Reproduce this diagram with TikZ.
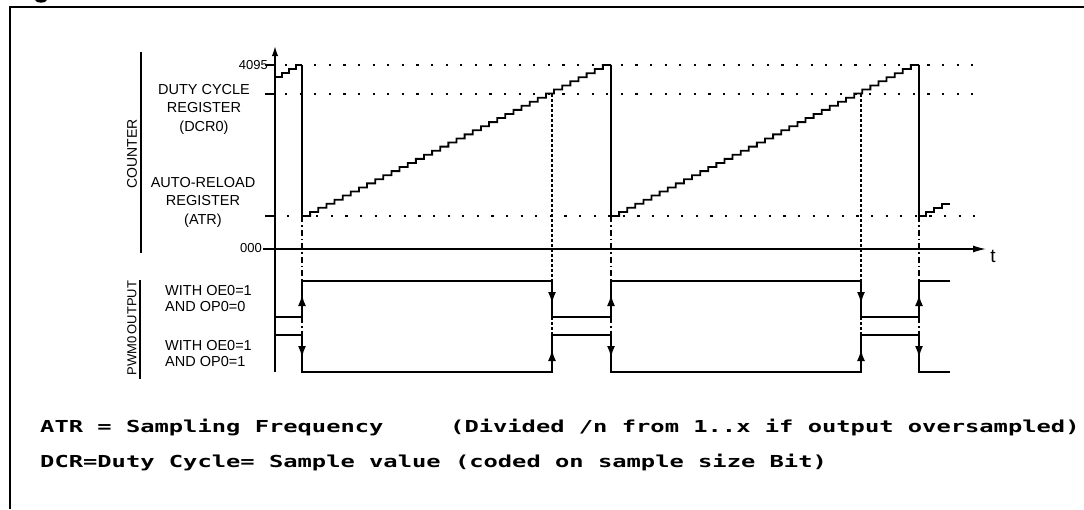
\documentclass[tikz,border=0pt]{standalone}
\usepackage{fontspec}
\setmainfont{Liberation Sans}
\newfontfamily\bottomfont{DejaVu Sans Mono}
\usetikzlibrary{arrows.meta}
\begin{document}
\begin{tikzpicture}[x=1pt,y=-1pt,
  lbl/.style={font=\fontsize{14.5}{18.5}\selectfont, inner sep=0pt, align=center},
  sidelbl/.style={font=\fontsize{14}{16}\selectfont, inner sep=0pt, rotate=90},
  frameline/.style={line width=2pt},
  axisv/.style={line width=2.7pt},
  axish/.style={line width=1.3pt},
  tick/.style={line width=2pt},
  level/.style={line width=2.2pt, dash pattern=on 2.2pt off 12.4pt},
  stair/.style={line width=1.8pt},
  drop/.style={line width=1.2pt},
  dashdot/.style={line width=1.2pt, dash pattern=on 6pt off 3pt on 1.5pt off 3pt},
  dcrline/.style={line width=2.4pt, dash pattern=on 3pt off 2pt},
  pulse/.style={line width=2.4pt},
  parr/.style={line width=2.4pt, -{Latex[length=12pt,width=8pt]}},
  bottomtxt/.style={font=\bottomfont\bfseries\fontsize{16.5}{18}\selectfont, inner sep=0pt, anchor=base west}
]
\useasboundingbox (0,0) rectangle (1084,509);
\fill[white] (0,0) rectangle (1084,509);
% cropped caption fragment
\fill (35,0) .. controls (36,3.6) and (46,3.6) .. (47,0) -- cycle;
% frame
\draw[frameline] (10,509) -- (10,7) -- (1084,7);

% axes
\coordinate (ytop) at (275,43);
\coordinate (ybot) at (275,372);
\draw[axisv, -{Latex[length=13pt,width=6pt]}] (ybot) -- (ytop);
\coordinate (tstart) at (263,249);
\coordinate (tend) at (986,249);
\draw[axish, -{Latex[length=13pt,width=7pt]}] (tstart) -- (tend);
\node[font=\fontsize{19}{19}\selectfont, inner sep=0pt] (tlbl) at (993,256) {t};

% ticks
\draw[tick] (265,65) -- (275,65);
\draw[tick] (265,94) -- (275,94);
\draw[tick] (265,216) -- (275,216);
\node[font=\fontsize{13}{13}\selectfont, inner sep=0pt, anchor=east] (l4095) at (268,65) {4095};
\node[font=\fontsize{13}{13}\selectfont, inner sep=0pt, anchor=east] (l000) at (262,248) {000};

% dotted levels
\draw[level] (285,65) -- (985,65);
\draw[level] (285,94) -- (985,94);
\draw[level] (287,216) -- (985,216);

% left labels
\node[sidelbl] (counter) at (132,154) {COUNTER};
\draw[line width=2.8pt] (141,52) -- (141,253);
\node[sidelbl, font=\fontsize{13}{16}\selectfont] (pwm) at (132,328) {PWM0\,OUTPUT};
\draw[line width=2pt] (140,280) -- (140,379);

\node[lbl] (dcr) at (204,109) {DUTY CYCLE\\REGISTER\\(DCR0)};
\node[lbl] (atr) at (203,202) {AUTO-RELOAD\\REGISTER\\(ATR)};
\node[lbl, align=left, anchor=west, font=\fontsize{14.5}{16}\selectfont] (w1) at (165,299) {WITH OE0=1\\AND OP0=0};
\node[lbl, align=left, anchor=west, font=\fontsize{14.5}{16}\selectfont] (w2) at (165,354) {WITH OE0=1\\AND OP0=1};

% sawtooth
\draw[stair] (275,77) -- ++(7,0) -- ++(0,-4) -- ++(7,0) -- ++(0,-4) -- ++(7,0) -- ++(0,-4) -- (302,65);
\draw[drop] (302,65) -- (302,216);
\draw[stair] (302,216) \foreach \i in {1,...,37}{ -- ++(8.132,0) -- ++(0,-4.081)} -- (611,65);
\draw[drop] (611,65) -- (611,216);
\draw[stair] (611,216) \foreach \i in {1,...,37}{ -- ++(8.105,0) -- ++(0,-4.081)} -- (919,65);
\draw[drop] (919,65) -- (919,216);
\draw[stair] (919,216) -- ++(7,0) -- ++(0,-4) -- ++(8,0) -- ++(0,-4) -- ++(8,0) -- ++(0,-4) -- (950,204);

% projections
\foreach \x in {302,611,919}{
  \draw[dashdot] (\x,216) -- (\x,281);
  \draw[dashdot] (\x,317) -- (\x,335);
}
\foreach \x in {552,861}{
  \draw[dcrline] (\x,94) -- (\x,281);
  \draw[dcrline] (\x,317) -- (\x,335);
}

% pulses
\draw[pulse] (275,317) -- (302,317) -- (302,281) -- (552,281) -- (552,317) -- (611,317) -- (611,281) -- (861,281) -- (861,317) -- (919,317) -- (919,281) -- (950,281);
\draw[pulse] (275,335) -- (302,335) -- (302,372) -- (552,372) -- (552,335) -- (611,335) -- (611,372) -- (861,372) -- (861,335) -- (919,335) -- (919,372) -- (950,372);
% edge arrows
\foreach \x in {302,611,919}{
  \draw[parr] (\x,313) -- (\x,294);
  \draw[parr] (\x,340) -- (\x,358);
}
\foreach \x in {552,861}{
  \draw[parr] (\x,285) -- (\x,304);
  \draw[parr] (\x,368) -- (\x,349);
}

% bottom text
\node[bottomtxt] (atrtxt) at (40,432) {\scalebox{1.44}[1]{ATR = Sampling Frequency}};
\node[bottomtxt] (divtxt) at (450,432) {\scalebox{1.44}[1]{(Divided /n from 1..x if output oversampled)}};
\node[bottomtxt] (dcrtxt) at (40,467) {\scalebox{1.44}[1]{DCR=Duty Cycle= Sample value (coded on sample size Bit)}};
\end{tikzpicture}
\end{document}
